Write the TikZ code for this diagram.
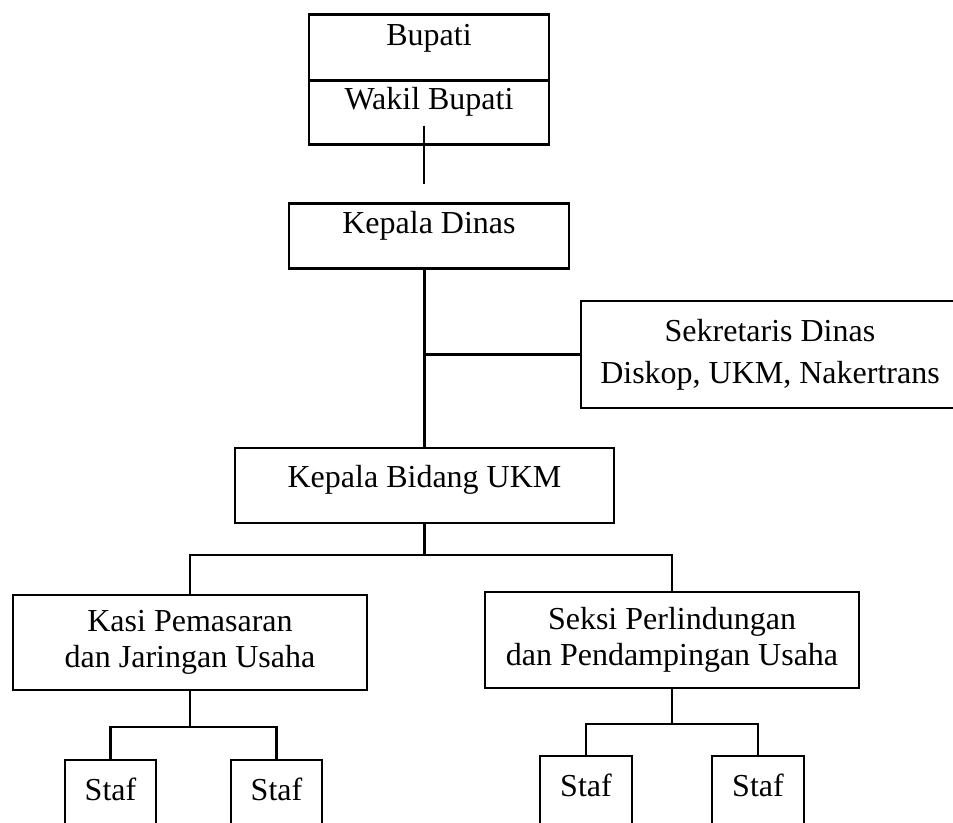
\documentclass[tikz,border=0pt]{standalone}
\usepackage{fontspec}
\setmainfont{Liberation Serif}
\usepackage{tikz}

\begin{document}
\begin{tikzpicture}[x=0.375pt, y=-0.375pt]
    % Define styles
    \tikzstyle{box} = [rectangle, draw, line width=0.6pt, anchor=north, inner sep=0pt, text depth=13.1pt, font=\fontsize{12}{14}\selectfont]
    \tikzstyle{topbox} = [box, line width=1.1pt]
    \tikzstyle{wide} = [rectangle, draw, line width=0.6pt, align=center, inner sep=0pt, font=\fontsize{12}{13.7}\selectfont]
    \tikzstyle{line} = [line width=0.8pt]

    \useasboundingbox (0,0) rectangle (953,823);
    \clip (0,0) rectangle (953,823);

    % Pimpinan
    \node [topbox, minimum width=90pt, text height=11.6pt] (bupati) at (429,13) {Bupati};
    \node [topbox, minimum width=90pt, text height=10.9pt] (wakil) at (429,79) {Wakil Bupati};
    \node [topbox, minimum width=105pt, text height=11.25pt] (kadis) at (429,202) {Kepala Dinas};
    \node [wide, minimum width=141.75pt, minimum height=40pt, font=\fontsize{12}{15.7}\selectfont] (sekda) at (770,354.5) {Sekretaris Dinas\\Diskop, UKM, Nakertrans};
    \node [box, minimum width=142pt, text height=15pt] (kabid) at (424.5,447) {Kepala Bidang UKM};

    % Seksi
    \node [wide, minimum width=132.75pt, minimum height=35.6pt] (kasi) at (190,642.5) {Kasi Pemasaran\\dan Jaringan Usaha};
    \node [wide, minimum width=140.25pt, minimum height=36pt] (seksi) at (672,640) {Seksi Perlindungan\\dan Pendampingan Usaha};

    % Staf
    \node [box, minimum width=34pt, text height=15.4pt] (staf1) at (110.5,759) {Staf};
    \node [box, minimum width=34pt, text height=15.4pt] (staf2) at (276.5,759) {Staf};
    \node [box, minimum width=34.5pt, text height=15.4pt] (staf3) at (586,755) {Staf};
    \node [box, minimum width=34.5pt, text height=15.4pt] (staf4) at (758,755) {Staf};

    % Garis
    \coordinate (c1) at (424,126);
    \coordinate (c2) at (424,184);
    \coordinate (j1) at (424.5,555);
    \coordinate (j2) at (190,727);
    \coordinate (j3) at (672,724);
    \draw [line] (c1) -- (c2);
    \draw [line] (kadis.south -| kabid.north) -- (kabid.north);
    \draw [line] (kabid.north |- sekda.west) -- (sekda.west);
    \draw [line] (kabid.south) -- (j1);
    \draw [line] (kasi.north) |- (j1) -| (seksi.north);
    \draw [line] (kasi.south) -- (j2);
    \draw [line] (staf1.north) |- (j2) -| (staf2.north);
    \draw [line] (seksi.south) -- (j3);
    \draw [line] (staf3.north) |- (j3) -| (staf4.north);
\end{tikzpicture}
\end{document}
